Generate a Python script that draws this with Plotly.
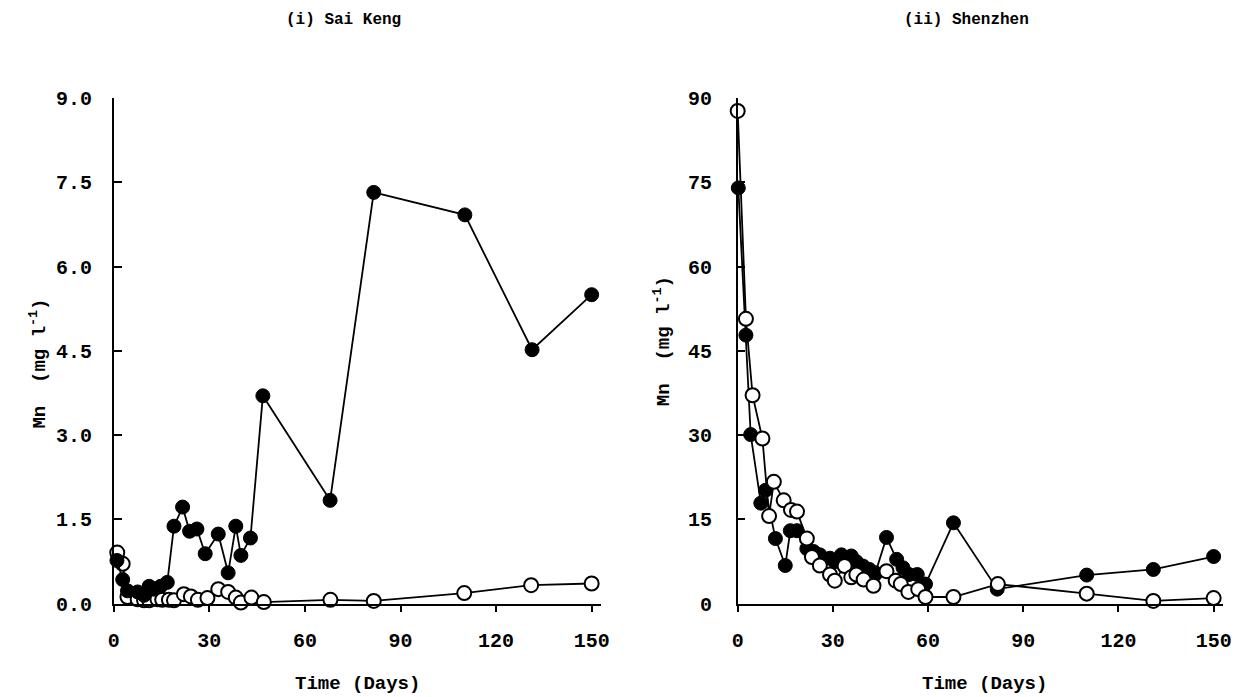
import plotly.graph_objects as go

# ---------------- data ----------------
# (i) Sai Keng
sk_filled_days = [1, 2.8, 4.3, 7.5, 9.5, 11.1, 12.6, 14.7, 16.8, 18.9, 21.6, 23.8, 26.1, 28.7,
                  32.8, 35.9, 38.3, 39.9, 42.9, 46.8, 67.9, 81.6, 110.2, 131.3, 150]
sk_filled_mn = [0.77, 0.43, 0.23, 0.21, 0.15, 0.31, 0.26, 0.31, 0.38, 1.38, 1.72, 1.29, 1.33, 0.89,
                1.24, 0.55, 1.38, 0.86, 1.17, 3.70, 1.84, 7.32, 6.92, 4.52, 5.50]
sk_open_days = [1.1, 2.8, 4.3, 7.5, 9.5, 11.1, 13.7, 15.2, 17.3, 18.9, 22, 24.2, 26.4, 29.4,
                32.8, 35.9, 38.3, 39.9, 43.2, 47.1, 68, 81.6, 110, 131, 150]
sk_open_mn = [0.91, 0.71, 0.12, 0.08, 0.06, 0.06, 0.08, 0.07, 0.07, 0.06, 0.17, 0.13, 0.07, 0.10,
              0.26, 0.21, 0.11, 0.02, 0.11, 0.03, 0.07, 0.05, 0.19, 0.33, 0.36]

# (ii) Shenzhen
sz_filled_days = [0.2, 2.6, 4.1, 7.3, 8.8, 11.9, 15, 16.6, 18.7, 21.8, 23.9, 25.9, 29.1, 30.6,
                  32.7, 35.8, 37.4, 39.5, 41.5, 43.4, 46.9, 50.1, 52.1, 54, 56.6, 59.2, 68,
                  81.8, 110, 131, 150]
sz_filled_mn = [74.0, 47.8, 30.1, 17.9, 20.2, 11.6, 6.8, 13.0, 13.0, 9.8, 9.3, 8.7, 8.1, 7.5,
                8.7, 8.5, 7.5, 6.7, 6.1, 5.5, 11.8, 7.9, 6.4, 5.2, 5.2, 3.5, 14.4,
                2.6, 5.1, 6.1, 8.4]
sz_open_days = [0, 2.6, 4.7, 7.8, 9.9, 11.4, 14.5, 16.8, 18.7, 21.8, 23.4, 25.9, 29.1, 30.6,
                33.7, 35.8, 37.4, 39.7, 42.8, 46.9, 49.8, 51.4, 53.8, 56.9, 59.2, 68, 82,
                110, 131, 150]
sz_open_mn = [87.7, 50.7, 37.1, 29.4, 15.6, 21.7, 18.4, 16.7, 16.4, 11.6, 8.3, 6.8, 5.2, 4.1,
              6.7, 4.7, 5.2, 4.3, 3.2, 5.8, 4.1, 3.5, 2.1, 2.6, 1.2, 1.2, 3.5,
              1.8, 0.5, 1.0]

x_ticks = [0, 30, 60, 90, 120, 150]
sk_y_ticks = [0, 1.5, 3.0, 4.5, 6.0, 7.5, 9.0]
sz_y_ticks = [0, 15, 30, 45, 60, 75, 90]

panel_titles = ["(i) Sai Keng", "(ii) Shenzhen"]
x_title = "Time (Days)"
y_title = "Mn  (mg l<sup>-1</sup>)"

# ---------------- styling ----------------
FONT = "Liberation Mono, Courier New, monospace"
W, H = 1244, 697


def px_x(p):
    return p / W


def px_y(p):
    return 1 - p / H


filled_marker = dict(symbol="circle", size=14, color="black", line=dict(color="black", width=1))
open_marker = dict(symbol="circle", size=14, color="white", line=dict(color="black", width=2))
line_style = dict(color="black", width=1.8)

fig = go.Figure()

# left panel: open first, filled on top
fig.add_trace(go.Scatter(x=sk_open_days, y=sk_open_mn, mode="lines+markers", marker=open_marker,
                         line=line_style, xaxis="x", yaxis="y", cliponaxis=False, showlegend=False))
fig.add_trace(go.Scatter(x=sk_filled_days, y=sk_filled_mn, mode="lines+markers", marker=filled_marker,
                         line=line_style, xaxis="x", yaxis="y", cliponaxis=False, showlegend=False))
# right panel: filled first, open on top
fig.add_trace(go.Scatter(x=sz_filled_days, y=sz_filled_mn, mode="lines+markers", marker=filled_marker,
                         line=line_style, xaxis="x2", yaxis="y2", cliponaxis=False, showlegend=False))
fig.add_trace(go.Scatter(x=sz_open_days, y=sz_open_mn, mode="lines+markers", marker=open_marker,
                         line=line_style, xaxis="x2", yaxis="y2", cliponaxis=False, showlegend=False))

ydom = [px_y(614), px_y(91)]
xdom1 = [px_x(109), px_x(602)]
xdom2 = [px_x(740), px_x(1231)]

tickfont = dict(family=FONT, size=20, color="black", weight="bold")

xaxis_common = dict(range=[0, 153], tickvals=x_ticks, ticks="outside", ticklen=7, tickwidth=1.5,
                    tickcolor="black", showline=True, linecolor="black", linewidth=1.5,
                    showgrid=False, zeroline=False, tickfont=tickfont, ticklabelstandoff=11)
yaxis_common = dict(ticks="inside", ticklen=8, tickwidth=1.5, tickcolor="black", showline=True,
                    linecolor="black", linewidth=1.5, showgrid=False, zeroline=False,
                    tickfont=tickfont, domain=ydom)

fig.update_layout(
    width=W, height=H,
    margin=dict(l=0, r=0, t=0, b=0),
    paper_bgcolor="white", plot_bgcolor="white",
    xaxis=dict(domain=xdom1, anchor="y", **xaxis_common),
    yaxis=dict(anchor="x", range=[0, 9], tickvals=sk_y_ticks, tickformat=".1f",
               ticklabelstandoff=16, **yaxis_common),
    xaxis2=dict(domain=xdom2, anchor="y2", **xaxis_common),
    yaxis2=dict(anchor="x2", range=[0, 90], tickvals=sz_y_ticks, tickformat="d",
                ticklabelstandoff=20, **yaxis_common),
)

title_font = dict(family=FONT, size=16, color="black", weight="bold")
label_font = dict(family=FONT, size=19, color="black", weight="bold")

annotations = [
    dict(text=panel_titles[0], x=px_x(341), y=px_y(10), xref="paper", yref="paper",
         showarrow=False, font=title_font, xanchor="center", yanchor="middle"),
    dict(text=panel_titles[1], x=px_x(971), y=px_y(10), xref="paper", yref="paper",
         showarrow=False, font=title_font, xanchor="center", yanchor="middle"),
    dict(text=x_title, x=px_x(355), y=px_y(697), xref="paper", yref="paper",
         showarrow=False, font=label_font, xanchor="center", yanchor="middle"),
    dict(text=x_title, x=px_x(990), y=px_y(697), xref="paper", yref="paper",
         showarrow=False, font=label_font, xanchor="center", yanchor="middle"),
    dict(text=y_title, x=px_x(33), y=px_y(366), xref="paper", yref="paper", textangle=-90,
         showarrow=False, font=label_font, xanchor="center", yanchor="middle"),
    dict(text=y_title, x=px_x(664), y=px_y(343), xref="paper", yref="paper", textangle=-90,
         showarrow=False, font=label_font, xanchor="center", yanchor="middle"),
]
fig.update_layout(annotations=annotations)

fig.write_html("out.html")
